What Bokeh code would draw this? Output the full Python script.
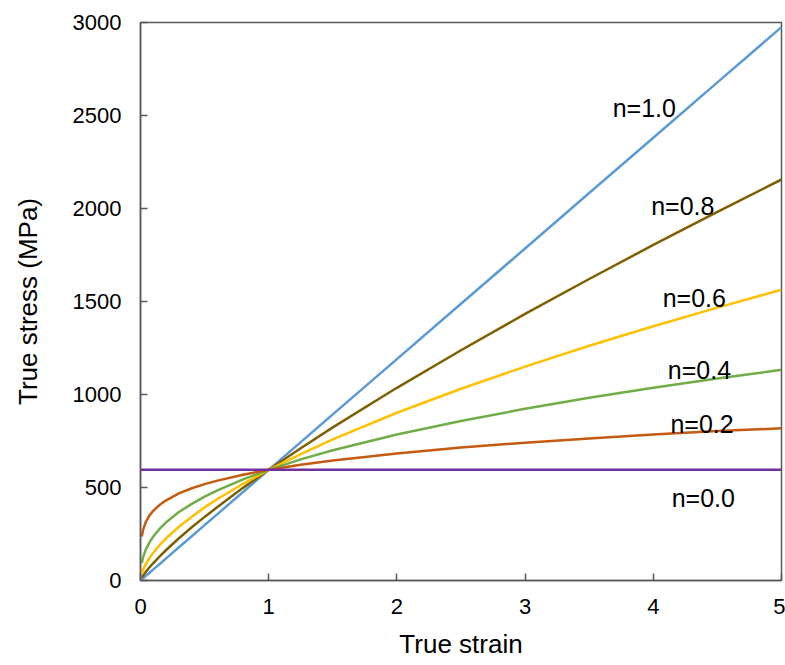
from bokeh.plotting import figure
from bokeh.models import Range1d, FixedTicker, Label
from bokeh.embed import file_html
from bokeh.resources import INLINE

# True strain sample points
strain = [0.01, 0.02, 0.04, 0.07, 0.1, 0.15, 0.2, 0.3, 0.4, 0.5, 0.6, 0.8,
          1.0, 1.25, 1.5, 2.0, 2.5, 3.0, 3.5, 4.0, 4.5, 5.0]

# True stress (MPa) for each hardening exponent n
stress_n10 = [6, 12, 24, 42, 60, 89, 119, 179, 238, 298, 357, 476,
              595, 744, 893, 1190, 1488, 1785, 2083, 2380, 2678, 2975]
stress_n08 = [15, 26, 45, 71, 94, 130, 164, 227, 286, 342, 395, 498,
              595, 711, 823, 1036, 1238, 1433, 1621, 1804, 1982, 2156]
stress_n06 = [38, 57, 86, 121, 149, 191, 227, 289, 343, 393, 438, 520,
              595, 680, 759, 902, 1031, 1150, 1262, 1367, 1467, 1563]
stress_n04 = [94, 124, 164, 205, 237, 279, 313, 368, 412, 451, 485, 544,
              595, 651, 700, 785, 858, 923, 982, 1036, 1086, 1133]
stress_n02 = [237, 272, 312, 350, 375, 407, 431, 468, 496, 518, 537, 569,
              595, 622, 645, 683, 715, 741, 764, 785, 804, 818]
strain_n00 = [0.0, 5.0]
stress_n00 = [595, 595]

series_labels = ["n=1.0", "n=0.8", "n=0.6", "n=0.4", "n=0.2", "n=0.0"]
label_x = [3.93, 4.23, 4.32, 4.36, 4.38, 4.39]
label_y = [2543, 2016, 1521, 1134, 844, 446]

x_ticks = [0, 1, 2, 3, 4, 5]
y_ticks = [0, 500, 1000, 1500, 2000, 2500, 3000]

colors = ["#5B9BD5", "#7F6000", "#FFC000", "#70AD47", "#C55A11", "#7030A0"]

FONT = "Liberation Sans"
FRAME = "#595959"

p = figure(width=785, height=665, output_backend="svg", toolbar_location=None,
           x_range=Range1d(0, 5), y_range=Range1d(0, 3000),
           min_border_left=140, min_border_right=4, min_border_top=22,
           min_border_bottom=85)
p.background_fill_color = "white"
p.border_fill_color = "white"
p.outline_line_color = FRAME
p.outline_line_width = 1.5
p.xgrid.visible = False
p.ygrid.visible = False

series = [(strain, stress_n10), (strain, stress_n08), (strain, stress_n06),
          (strain, stress_n04), (strain, stress_n02), (strain_n00, stress_n00)]
for (xs, ys), c in zip(series, colors):
    p.line(xs, ys, line_color=c, line_width=2.5)

for t, lx, ly in zip(series_labels, label_x, label_y):
    p.add_layout(Label(x=lx, y=ly, text=t, text_align="center",
                       text_baseline="alphabetic", text_font=FONT,
                       text_font_size="25px", text_color="#000000"))

for ax in (p.xaxis[0], p.yaxis[0]):
    ax.axis_line_color = FRAME
    ax.axis_line_width = 1.5
    ax.major_tick_line_color = FRAME
    ax.major_tick_line_width = 1.5
    ax.major_tick_in = 7
    ax.major_tick_out = 0
    ax.minor_tick_line_color = None
    ax.major_label_text_font = FONT
    ax.major_label_text_font_size = "22px"
    ax.major_label_text_color = "#000000"
    ax.axis_label_text_font = FONT
    ax.axis_label_text_font_size = "26px"
    ax.axis_label_text_font_style = "normal"
    ax.axis_label_text_color = "#000000"

p.xaxis[0].ticker = FixedTicker(ticks=x_ticks)
p.yaxis[0].ticker = FixedTicker(ticks=y_ticks)
p.xaxis[0].major_label_standoff = 18
p.yaxis[0].major_label_standoff = 19
p.xaxis[0].axis_label = "True strain"
p.xaxis[0].axis_label_standoff = 12
p.yaxis[0].axis_label = "True stress (MPa)"
p.yaxis[0].axis_label_standoff = 27

open("out.html", "w").write(file_html(p, INLINE))
